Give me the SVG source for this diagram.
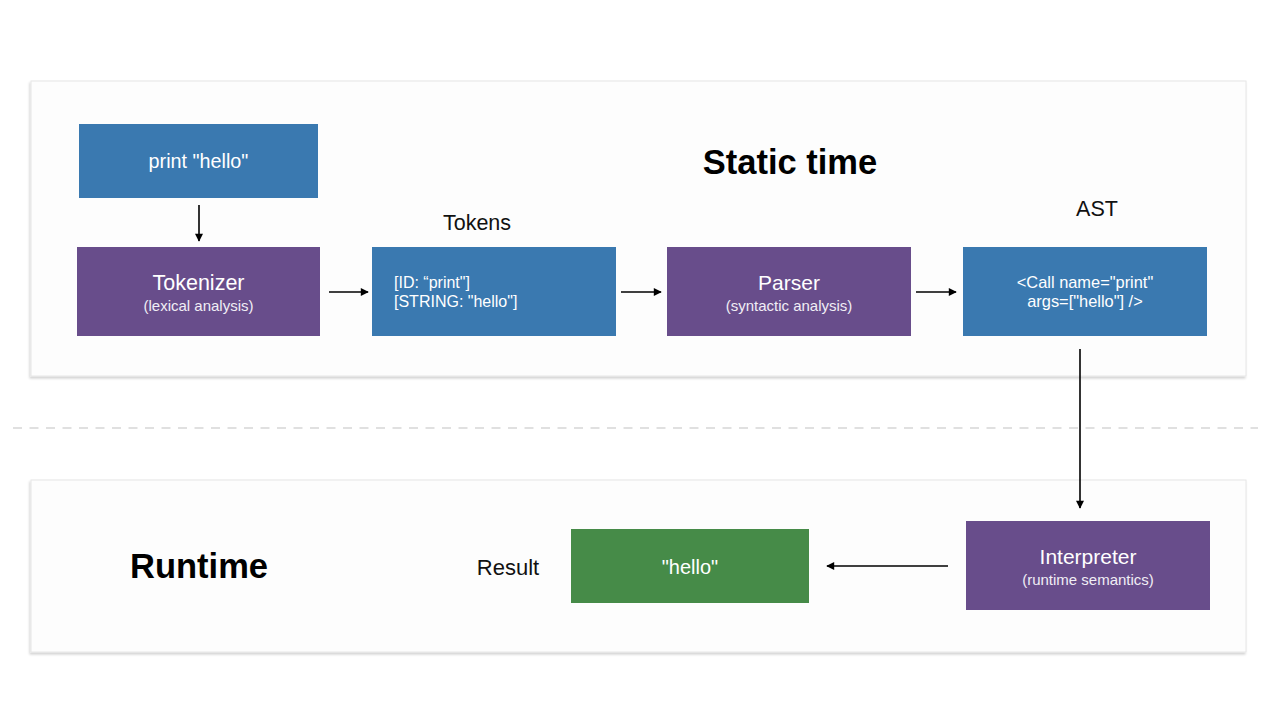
<svg xmlns="http://www.w3.org/2000/svg" width="1280" height="720" viewBox="0 0 1280 720">
<defs>
<style>
text{font-family:"Liberation Sans",Arial,sans-serif}
.panel{fill:#fdfdfd;stroke:#e6e6e6;stroke-width:1}
.blue{fill:#3a79b0}
.purple{fill:#684d8b}
.green{fill:#468b48}
.nt{fill:#ffffff;font-size:21px;text-anchor:middle}
.st{fill:#f0eef5;font-size:15px;text-anchor:middle}
.ct{fill:#ffffff;font-size:16px}
.lbl{fill:#111;font-size:21.5px;text-anchor:middle}
.big{fill:#000;font-size:34.5px;font-weight:bold;text-anchor:middle}
.conn{stroke:#000;stroke-width:1.6;fill:none;marker-end:url(#ah)}
</style>
<marker id="ah" viewBox="0 0 10 10" refX="9" refY="5" markerWidth="9" markerHeight="8" orient="auto" markerUnits="userSpaceOnUse">
<path d="M0,0 L10,5 L0,10 z" fill="#000"/>
</marker>
<filter id="sh" x="-5%" y="-5%" width="110%" height="115%">
<feDropShadow dx="-1" dy="2" stdDeviation="1" flood-color="#000" flood-opacity="0.18"/>
</filter>
</defs>
<rect width="1280" height="720" fill="#ffffff"/>
<g id="panels">
<rect class="panel" x="31" y="81" width="1215" height="295" filter="url(#sh)"/>
<rect class="panel" x="31" y="480" width="1215" height="172" filter="url(#sh)"/>
<line x1="13" y1="428" x2="1258" y2="428" stroke="#d6d6d6" stroke-width="1.5" stroke-dasharray="9,7.5"/>
</g>
<g id="titles">
<text class="big" x="790" y="174">Static time</text>
<text class="big" x="199" y="578">Runtime</text>
<text class="lbl" x="477" y="230">Tokens</text>
<text class="lbl" x="1097" y="216">AST</text>
<text class="lbl" x="508" y="575" style="font-size:22px">Result</text>
</g>
<g id="source">
<rect class="blue" x="79" y="124" width="239" height="74"/>
<text class="nt" x="198.5" y="168" style="font-size:19.8px">print "hello"</text>
</g>
<g id="tokenizer">
<rect class="purple" x="77" y="247" width="243" height="89"/>
<text class="nt" x="198.5" y="290" style="font-size:21.5px">Tokenizer</text>
<text class="st" x="198.5" y="311">(lexical analysis)</text>
</g>
<g id="tokens">
<rect class="blue" x="372" y="247" width="244" height="89"/>
<text class="ct" x="394" y="288">[ID: “print"]</text>
<text class="ct" x="394" y="307">[STRING: "hello"]</text>
</g>
<g id="parser">
<rect class="purple" x="667" y="247" width="244" height="89"/>
<text class="nt" x="789" y="290">Parser</text>
<text class="st" x="789" y="311">(syntactic analysis)</text>
</g>
<g id="ast">
<rect class="blue" x="963" y="247" width="244" height="89"/>
<text class="ct" x="1085" y="288" text-anchor="middle" style="font-size:16.4px">&lt;Call name="print"</text>
<text class="ct" x="1085" y="307" text-anchor="middle" style="font-size:16.4px">args=["hello"] /&gt;</text>
</g>
<g id="interpreter">
<rect class="purple" x="966" y="521" width="244" height="89"/>
<text class="nt" x="1088" y="564">Interpreter</text>
<text class="st" x="1088" y="585">(runtime semantics)</text>
</g>
<g id="result">
<rect class="green" x="571" y="529" width="238" height="74"/>
<text class="nt" x="690" y="574" style="font-size:20px">"hello"</text>
</g>
<g id="connectors">
<line class="conn" x1="199" y1="205" x2="199" y2="241"/>
<line class="conn" x1="329" y1="292" x2="368" y2="292"/>
<line class="conn" x1="621" y1="292" x2="661" y2="292"/>
<line class="conn" x1="916" y1="292" x2="956" y2="292"/>
<line class="conn" x1="1080" y1="349" x2="1080" y2="508"/>
<line class="conn" x1="948" y1="566" x2="827" y2="566"/>
</g>
</svg>
